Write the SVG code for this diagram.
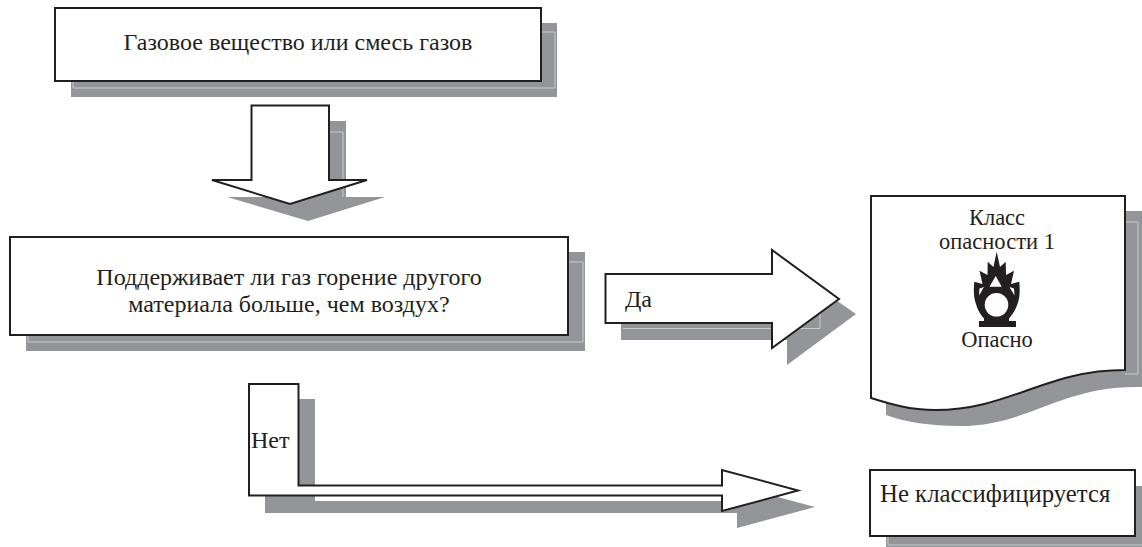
<svg xmlns="http://www.w3.org/2000/svg" width="1142" height="547" viewBox="0 0 1142 547">
<style>
.sh{fill:#939598;stroke:none}
.hl{fill:none;stroke:#c9cacc;stroke-width:1}
.fg{fill:#fff;stroke:#231f20;stroke-width:2;stroke-linejoin:miter}
text{font-family:"Liberation Serif","Times New Roman",serif;font-size:24px;fill:#231f20}
.m{text-anchor:middle}
.s{font-size:22.500px}
</style>
<rect width="1142" height="547" fill="#fff"/>
<g id="connectors">
<g id="arrow-down">
<path class="sh" d="M267 121H346V197H385L308 221L227 197H267Z"/>
<path class="hl" d="M330 132H343V197"/>
<path class="fg" d="M251.500 105.500H329V180H367L290 204L212 180H251.500Z"/>
</g>
<g id="arrow-yes">
<path class="sh" d="M621 290H787V266L856 314L787 365V340H621Z"/>
<path class="hl" d="M623 328.500H820V300"/>
<path class="fg" d="M605.500 274H772V250L839 299L772 348V323H605.500Z"/>
<text x="625" y="307">Да</text>
</g>
<g id="arrow-no">
<path class="sh" d="M298 399H315V501H737V486L815 507L737 528V513H265V495H298Z"/>
<path class="fg" d="M249 384H298.500V485.500H722V470L798 490.500L722 511V495.500H249Z"/>
<text x="251" y="448">Нет</text>
</g>
</g>
<g id="node-gas">
<rect class="sh" x="71" y="23" width="486" height="74"/>
<path class="hl" d="M73 81V88H555V32H541"/>
<rect class="fg" x="55" y="8" width="486" height="73"/>
<text class="m" x="298" y="50">Газовое вещество или смесь газов</text>
</g>
<g id="node-question">
<rect class="sh" x="26" y="252" width="559" height="99"/>
<path class="hl" d="M28 335V342H583V262H568"/>
<rect class="fg" x="10" y="237" width="558" height="98"/>
<text class="m" x="289" y="285">Поддерживает ли газ горение другого</text>
<text class="m" x="289" y="312">материала больше, чем воздух?</text>
</g>
<g id="node-class1">
<path class="sh" d="M886 211H1142V387C1060 385 1030 426 960 426C930 426 905 422 886 415Z"/>
<path class="hl" d="M1125 222H1138V374H1125"/>
<path class="fg" d="M871 196H1125V370C1045 370 1010 410 935 410C910 410 890 404 871 398Z"/>
<text class="m s" x="997" y="225">Класс</text>
<text class="m s" x="997" y="249">опасности 1</text>
<path fill="#231f20" d="M996.700 251.700L1000 267L1005.700 261.700L1006 275L1014 270.700L1011 284L1019.300 281.700C1020 290 1020 297 1017.500 304C1015 311 1012 315 1009 318.500L1009 322H984L984 318.500C981 315 978 311 976 304C973.500 297 973.500 290 974.300 281.700L982.500 284L979.500 270.700L987.500 275L987.700 261.700L993.400 267Z"/>
<path fill="#fff" d="M995.700 276L1001.700 286.700H989.500ZM984 287L979 295.500L979.500 288.500ZM1009.500 287L1014.500 295.500L1014 288.500Z"/>
<circle cx="996.500" cy="304.800" r="11.800" fill="#fff"/>
<rect x="979" y="321" width="37" height="6" fill="#231f20"/>
<text class="m s" x="997" y="347">Опасно</text>
</g>
<g id="node-notclassified">
<rect class="sh" x="886" y="486" width="256" height="61"/>
<path class="hl" d="M888 536V545H1142"/>
<rect class="fg" x="870" y="470" width="265" height="66"/>
<text x="880" y="502" style="font-size:24.800px">Не классифицируется</text>
</g>
</svg>
